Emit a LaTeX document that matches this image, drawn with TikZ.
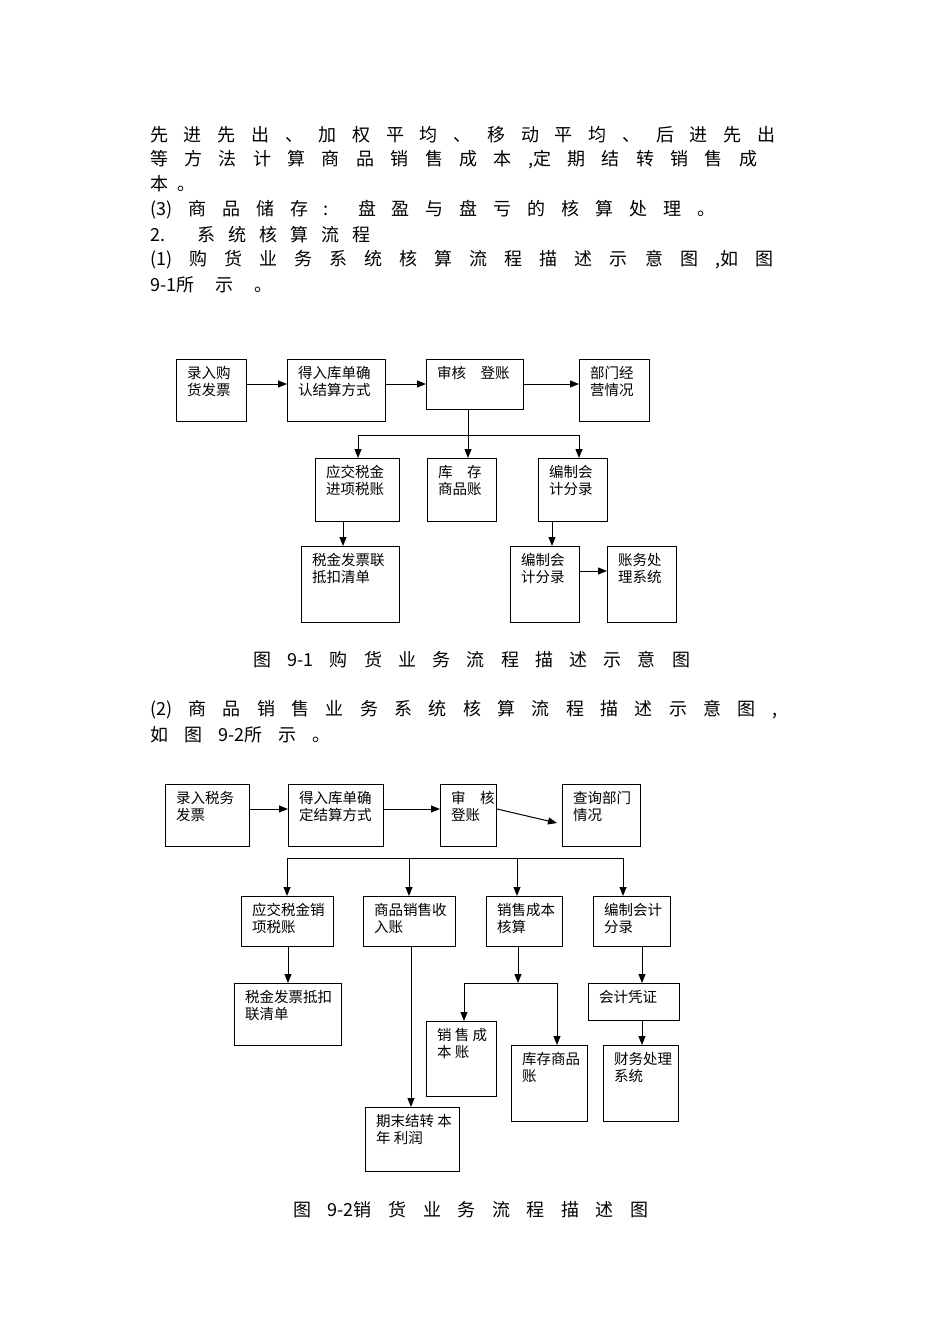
\documentclass[tikz,border=0pt]{standalone}
\usepackage{fontspec}
\setmainfont{Noto Sans CJK SC}
\usetikzlibrary{arrows.meta}
\tikzset{
  box/.style={draw, line width=1pt, inner sep=0pt, anchor=north west},
  txt/.style={anchor=north west, align=left, inner sep=0pt, font=\fontsize{14.5}{17}\selectfont},
  arr/.style={line width=1pt, -{Triangle[length=9pt,width=7pt]}},
  ln/.style={line width=1pt},
  para/.style={anchor=west, inner sep=0pt, font=\fontsize{18}{20}\selectfont}
}
\newcommand{\bx}[6]{\node[box, minimum width={#4-#2}, minimum height={#5-#3}] (#1) at (#2,#3) {};
  \node[txt] (#1t) at ([xshift=11pt,yshift=-7pt]#1.north west) {#6};}
\newcommand{\pl}[5]{\node[para] (#1) at (#2,#3) {\makebox[#4pt][s]{#5}};}
\begin{document}
\begin{tikzpicture}[x=1pt,y=-1pt]
\useasboundingbox (0,0) rectangle (950,1344);
% paragraph text
\pl{p1}{150}{135}{625}{先 进 先 出 、 加 权 平 均 、 移 动 平 均 、 后 进 先 出}
\pl{p2}{150}{160}{607}{等 方 法 计 算 商 品 销 售 成 本 ,定 期 结 转 销 售 成}
\pl{p3}{150}{184}{45}{本 。}
\pl{p4}{150}{210}{565}{(3) 商 品 储 存 : 盘 盈 与 盘 亏 的 核 算 处 理 。}
\pl{p5}{150}{235}{220}{2. 系 统 核 算 流 程}
\pl{p6}{150}{260}{623}{(1) 购 货 业 务 系 统 核 算 流 程 描 述 示 意 图 ,如 图}
\pl{p7}{150}{285}{122}{9-1所 示 。}
\pl{c1}{253}{660}{437}{图 9-1 购 货 业 务 流 程 描 述 示 意 图}
\pl{p8}{150}{710}{627}{(2) 商 品 销 售 业 务 系 统 核 算 流 程 描 述 示 意 图 ,}
\pl{p9}{150}{735}{180}{如 图 9-2所 示 。}
\pl{c2}{293}{1210}{355}{图 9-2销 货 业 务 流 程 描 述 图}
% diagram 1
\bx{A1}{176}{359}{246}{421}{录入购\\货发票}
\bx{A2}{287}{359}{385}{421}{得入库单确\\认结算方式}
\bx{A3}{426}{359}{523}{409}{审核\quad 登账}
\bx{A4}{579}{359}{649}{421}{部门经\\营情况}
\bx{B1}{315}{458}{399}{521}{应交税金\\进项税账}
\bx{B2}{427}{458}{496}{521}{库\quad 存\\商品账}
\bx{B3}{538}{458}{607}{521}{编制会\\计分录}
\bx{C1}{301}{546}{399}{622}{税金发票联\\抵扣清单}
\bx{C2}{510}{546}{579}{622}{编制会\\计分录}
\bx{C3}{607}{546}{676}{622}{账务处\\理系统}
\coordinate (ya) at (0,384);
\draw[arr] (A1.east|-ya) -- (A2.west|-ya);
\draw[arr] (A2.east|-ya) -- (A3.west|-ya);
\draw[arr] (A3.east|-ya) -- (A4.west|-ya);
\coordinate (jm) at (468,435);
\coordinate (jl) at (358,435);
\coordinate (jr) at (579,435);
\draw[ln] (A3.south-|jm) -- (jm);
\draw[ln] (jl) -- (jr);
\draw[arr] (jl) -- (B1.north-|jl);
\draw[arr] (jm) -- (B2.north-|jm);
\draw[arr] (jr) -- (B3.north-|jr);
\coordinate (x1) at (343,0);
\coordinate (x2) at (552,0);
\coordinate (yc) at (0,571);
\draw[arr] (B1.south-|x1) -- (C1.north-|x1);
\draw[arr] (B3.south-|x2) -- (C2.north-|x2);
\draw[arr] (C2.east|-yc) -- (C3.west|-yc);
% diagram 2
\bx{D1}{165}{784}{249}{846}{录入税务\\发票}
\bx{D2}{288}{784}{383}{846}{得入库单确\\定结算方式}
\bx{D3}{440}{784}{496}{846}{审\quad 核\\登账}
\bx{D4}{562}{784}{640}{846}{查询部门\\情况}
\bx{E1}{241}{896}{333}{946}{应交税金销\\项税账}
\bx{E2}{363}{896}{455}{946}{商品销售收\\入账}
\bx{E3}{486}{896}{562}{946}{销售成本\\核算}
\bx{E4}{593}{896}{670}{946}{编制会计\\分录}
\bx{F1}{234}{983}{341}{1045}{税金发票抵扣\\联清单}
\bx{G1}{365}{1107}{459}{1171}{期末结转\ 本\\年\ 利润}
\bx{H1}{426}{1021}{496}{1096}{销\ 售\ 成\\本\ 账}
\bx{H2}{511}{1045}{587}{1121}{库存商品\\账}
\bx{I1}{588}{983}{679}{1020}{会计凭证}
\bx{I2}{603}{1045}{678}{1121}{财务处理\\系统}
\coordinate (yd) at (0,809);
\draw[arr] (D1.east|-yd) -- (D2.west|-yd);
\draw[arr] (D2.east|-yd) -- (D3.west|-yd);
\coordinate (s4) at (557,823);
\draw[arr] (D3.east|-yd) -- (s4);
\coordinate (k1) at (287,858);
\coordinate (k2) at (409,858);
\coordinate (k3) at (517,858);
\coordinate (k4) at (623,858);
\draw[ln] (k1) -- (k4);
\draw[arr] (k1) -- (E1.north-|k1);
\draw[arr] (k2) -- (E2.north-|k2);
\draw[arr] (k3) -- (E3.north-|k3);
\draw[arr] (k4) -- (E4.north-|k4);
\coordinate (m1) at (288,0);
\coordinate (m2) at (411,0);
\coordinate (m3) at (518,983);
\coordinate (m4) at (642,0);
\draw[arr] (E1.south-|m1) -- (F1.north-|m1);
\draw[arr] (E2.south-|m2) -- (G1.north-|m2);
\draw[arr] (E3.south-|m3) -- (m3);
\coordinate (n1) at (464,983);
\coordinate (n2) at (557,983);
\draw[ln] (n1) -- (n2);
\draw[arr] (n1) -- (H1.north-|n1);
\draw[arr] (n2) -- (H2.north-|n2);
\draw[arr] (E4.south-|m4) -- (I1.north-|m4);
\draw[arr] (I1.south-|m4) -- (I2.north-|m4);
\end{tikzpicture}
\end{document}
